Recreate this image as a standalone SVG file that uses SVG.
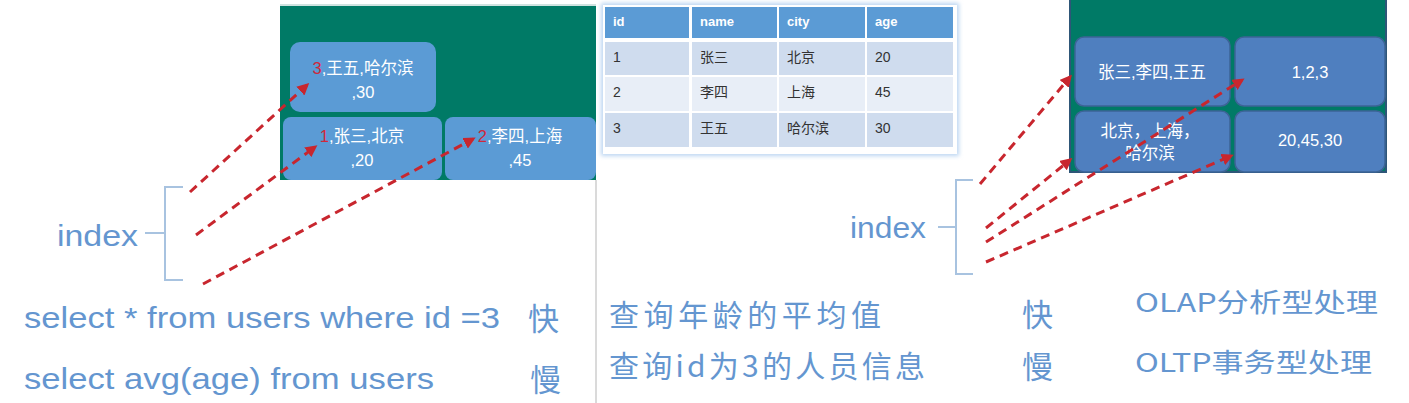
<svg xmlns="http://www.w3.org/2000/svg" width="1409" height="403" viewBox="0 0 1409 403">
<style>
.lbl{font-family:"Liberation Sans","Noto Sans CJK SC",sans-serif;fill:#6496d0}
.cjk{font-family:"Noto Sans CJK SC","Liberation Sans",sans-serif;fill:#6496d0}
.bx1{fill:#5b9bd5}
.bx2{fill:#4f7fbf;stroke:#3d6496;stroke-width:1.5}
.wt{font-family:"Liberation Sans","Noto Sans CJK SC",sans-serif;fill:#ffffff;font-size:16.5px;text-anchor:middle}
.rd{fill:#d0283a}
.hd{font-family:"Liberation Sans",sans-serif;font-weight:bold;font-size:13px;fill:#ffffff}
.cl{font-family:"Liberation Sans","Noto Sans CJK SC",sans-serif;font-size:14px;fill:#333333}
.brace{fill:none;stroke:#a8c3e0;stroke-width:2}
.dash{fill:none;stroke:#c8262e;stroke-width:3;stroke-dasharray:9 6;marker-end:url(#ah)}
</style>
<defs>
<marker id="ah" markerWidth="4" markerHeight="4" refX="3" refY="2" orient="auto" markerUnits="strokeWidth">
<path d="M0,0 L4,2 L0,4 z" fill="#c8262e"/>
</marker>
<filter id="glow" x="-5%" y="-5%" width="110%" height="110%">
<feGaussianBlur stdDeviation="2"/>
</filter>
</defs>
<rect width="1409" height="403" fill="#ffffff"/>

<!-- divider -->
<line x1="596" y1="180" x2="596" y2="403" stroke="#dadada" stroke-width="2"/>

<!-- left panel -->
<g id="left-panel">
<rect x="280" y="4" width="316" height="176" fill="#007a66"/>
<rect x="280" y="4" width="316" height="2" fill="#cfe3e0"/>
</g>
<g id="node-3">
<rect class="bx1" x="290" y="42" width="146" height="70" rx="10"/>
<text class="wt" x="363" y="74"><tspan class="rd">3</tspan>,王五,哈尔滨</text>
<text class="wt" x="363" y="98">,30</text>
</g>
<g id="node-1">
<rect class="bx1" x="283" y="117" width="159" height="63" rx="8"/>
<text class="wt" x="362" y="142"><tspan class="rd">1</tspan>,张三,北京</text>
<text class="wt" x="362" y="166">,20</text>
</g>
<g id="node-2">
<rect class="bx1" x="445" y="117" width="151" height="63" rx="8"/>
<text class="wt" x="520" y="142"><tspan class="rd">2</tspan>,李四,上海</text>
<text class="wt" x="520" y="166">,45</text>
</g>
<g id="index-left">
<text class="lbl" x="57" y="246" font-size="30" textLength="81" lengthAdjust="spacingAndGlyphs">index</text>
<path class="brace" d="M183,187 H165 V233 H145 M165,233 V280 H183"/>
</g>
<g id="left-queries">
<text class="lbl" x="24" y="328" font-size="30" textLength="476" lengthAdjust="spacingAndGlyphs">select * from users where id =3</text>
<text class="cjk" x="528" y="330" font-size="31">快</text>
<text class="lbl" x="24" y="389" font-size="30" textLength="410" lengthAdjust="spacingAndGlyphs">select avg(age) from users</text>
<text class="cjk" x="530" y="391" font-size="31">慢</text>
</g>

<!-- middle table -->
<g id="table">
<rect x="601" y="3" width="358" height="153" fill="#bcd6f2" filter="url(#glow)"/>
<rect x="603" y="5" width="354" height="149" fill="#ffffff"/>
<rect x="605" y="7" width="84" height="31" fill="#5b9bd5"/>
<rect x="692" y="7" width="85" height="31" fill="#5b9bd5"/>
<rect x="779" y="7" width="86" height="31" fill="#5b9bd5"/>
<rect x="867" y="7" width="86" height="31" fill="#5b9bd5"/>
<rect x="605" y="42" width="84" height="33" fill="#cfdcee"/>
<rect x="692" y="42" width="85" height="33" fill="#cfdcee"/>
<rect x="779" y="42" width="86" height="33" fill="#cfdcee"/>
<rect x="867" y="42" width="86" height="33" fill="#cfdcee"/>
<rect x="605" y="77" width="84" height="34" fill="#e8eef7"/>
<rect x="692" y="77" width="85" height="34" fill="#e8eef7"/>
<rect x="779" y="77" width="86" height="34" fill="#e8eef7"/>
<rect x="867" y="77" width="86" height="34" fill="#e8eef7"/>
<rect x="605" y="113" width="84" height="34" fill="#cfdcee"/>
<rect x="692" y="113" width="85" height="34" fill="#cfdcee"/>
<rect x="779" y="113" width="86" height="34" fill="#cfdcee"/>
<rect x="867" y="113" width="86" height="34" fill="#cfdcee"/>
<text class="hd" x="613" y="26">id</text>
<text class="hd" x="700" y="26">name</text>
<text class="hd" x="787" y="26">city</text>
<text class="hd" x="875" y="26">age</text>
<text class="cl" x="613" y="62">1</text>
<text class="cl" x="700" y="62">张三</text>
<text class="cl" x="787" y="62">北京</text>
<text class="cl" x="875" y="62">20</text>
<text class="cl" x="613" y="97">2</text>
<text class="cl" x="700" y="97">李四</text>
<text class="cl" x="787" y="97">上海</text>
<text class="cl" x="875" y="97">45</text>
<text class="cl" x="613" y="133">3</text>
<text class="cl" x="700" y="133">王五</text>
<text class="cl" x="787" y="133">哈尔滨</text>
<text class="cl" x="875" y="133">30</text>
</g>
<g id="middle-queries">
<text class="cjk" x="609" y="326" font-size="30" textLength="272" lengthAdjust="spacing">查询年龄的平均值</text>
<text class="cjk" x="1022" y="326" font-size="31">快</text>
<text class="cjk" x="609" y="377" font-size="30" textLength="316" lengthAdjust="spacing">查询id为3的人员信息</text>
<text class="cjk" x="1022" y="378" font-size="31">慢</text>
<text class="cjk" x="1135" y="312" font-size="26" textLength="243" lengthAdjust="spacingAndGlyphs">OLAP分析型处理</text>
<text class="cjk" x="1135" y="372" font-size="26" textLength="237" lengthAdjust="spacingAndGlyphs">OLTP事务型处理</text>
</g>

<!-- right panel -->
<g id="right-panel">
<rect x="1070" y="-2" width="316" height="174" fill="#007a66" stroke="#2e5678" stroke-width="2"/>
</g>
<g id="node-names">
<rect class="bx2" x="1075" y="37" width="155" height="69" rx="9"/>
<text class="wt" x="1152" y="78">张三,李四,王五</text>
</g>
<g id="node-ids">
<rect class="bx2" x="1235" y="37" width="150" height="69" rx="9"/>
<text class="wt" x="1310" y="78">1,2,3</text>
</g>
<g id="node-cities">
<rect class="bx2" x="1075" y="111" width="155" height="61" rx="9"/>
<text class="wt" x="1150" y="137">北京，上海，</text>
<text class="wt" x="1150" y="159">哈尔滨</text>
</g>
<g id="node-ages">
<rect class="bx2" x="1235" y="111" width="150" height="61" rx="9"/>
<text class="wt" x="1310" y="146">20,45,30</text>
</g>
<g id="index-right">
<text class="lbl" x="850" y="238" font-size="30" textLength="76" lengthAdjust="spacingAndGlyphs">index</text>
<path class="brace" d="M973,180 H956 V227 H938 M956,227 V274 H973"/>
</g>

<g id="connectors">
<line class="dash" x1="190" y1="192" x2="307" y2="85"/>
<line class="dash" x1="196" y1="235" x2="315" y2="147"/>
<line class="dash" x1="203" y1="284" x2="473" y2="139"/>
<line class="dash" x1="980" y1="184" x2="1070" y2="77"/>
<line class="dash" x1="986" y1="228" x2="1070" y2="160"/>
<line class="dash" x1="986" y1="242" x2="1242" y2="80"/>
<line class="dash" x1="986" y1="262" x2="1231" y2="156"/>
</g>
</svg>
